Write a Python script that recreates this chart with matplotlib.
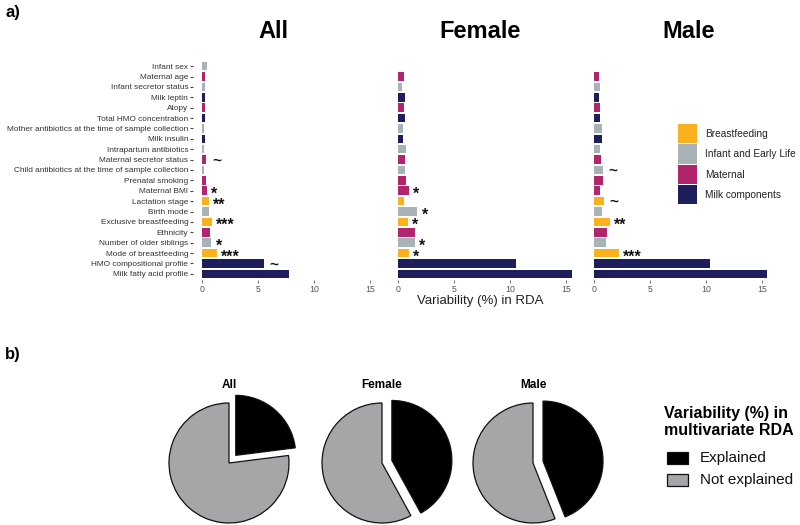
import matplotlib
matplotlib.use("Agg")
import matplotlib.pyplot as plt
from matplotlib.patches import Rectangle
import logging
logging.getLogger('matplotlib.font_manager').setLevel(logging.ERROR)

plt.rcParams['font.family'] = ['Liberation Sans', 'DejaVu Sans']
NARROW = ['Liberation Sans Narrow', 'Liberation Sans', 'DejaVu Sans']

# ---------------- data ----------------
variables = [
    "Infant sex", "Maternal age", "Infant secretor status", "Milk leptin", "Atopy",
    "Total HMO concentration", "Mother antibiotics at the time of sample collection",
    "Milk insulin", "Intrapartum antibiotics", "Maternal secretor status",
    "Child antibiotics at the time of sample collection", "Prenatal smoking",
    "Maternal BMI", "Lactation stage", "Birth mode", "Exclusive breastfeeding",
    "Ethnicity", "Number of older siblings", "Mode of breastfeeding",
    "HMO compositional profile", "Milk fatty acid profile",
]
groups = [
    "Infant and Early Life", "Maternal", "Infant and Early Life", "Milk components", "Maternal",
    "Milk components", "Infant and Early Life",
    "Milk components", "Infant and Early Life", "Maternal",
    "Infant and Early Life", "Maternal",
    "Maternal", "Breastfeeding", "Infant and Early Life", "Breastfeeding",
    "Maternal", "Infant and Early Life", "Breastfeeding",
    "Milk components", "Milk components",
]
values_all = [0.45, 0.3, 0.25, 0.3, 0.3, 0.3, 0.15, 0.3, 0.2, 0.4, 0.2, 0.4,
              0.45, 0.6, 0.6, 0.9, 0.75, 0.85, 1.35, 5.5, 7.8]
values_female = [0.0, 0.54, 0.36, 0.63, 0.57, 0.6, 0.48, 0.48, 0.72, 0.63, 0.63, 0.69,
                 1.0, 0.57, 1.73, 0.9, 1.55, 1.52, 0.98, 10.5, 15.5]
values_male = [0.0, 0.42, 0.56, 0.45, 0.5, 0.5, 0.71, 0.74, 0.53, 0.65, 0.83, 0.83,
               0.56, 0.89, 0.74, 1.4, 1.16, 1.1, 2.2, 10.35, 15.46]
sig_all = ["", "", "", "", "", "", "", "", "", "~", "", "", "*", "**", "", "***",
           "", "*", "***", "~", ""]
sig_female = ["", "", "", "", "", "", "", "", "", "", "", "", "*", "", "*", "*",
              "", "*", "*", "", ""]
sig_male = ["", "", "", "", "", "", "", "", "", "", "~", "", "", "~", "", "**",
            "", "", "***", "", ""]
panel_titles = ["All", "Female", "Male"]
x_ticks = [0, 5, 10, 15]
legend_groups = ["Breastfeeding", "Infant and Early Life", "Maternal", "Milk components"]
group_colors = ["#F9B11E", "#A8B2B7", "#B0256C", "#1F1E5C"]

pie_titles = ["All", "Female", "Male"]
explained = [23, 42, 44]
pie_labels = ["Explained", "Not explained"]
pie_colors = ["#000000", "#A6A6A8"]

# ---------------- figure ----------------
W, H = 800, 525
fig = plt.figure(figsize=(W / 100, H / 100), dpi=100)

def fx(px):
    return px / W

def fy(py):
    return 1 - py / H

cmap = dict(zip(legend_groups, group_colors))
lefts = [193, 389, 585]
ax_w = 191.5
ax_top, ax_bot = 60, 280
datasets = [(values_all, sig_all), (values_female, sig_female), (values_male, sig_male)]
title_x = [273, 480, 689]

n = len(variables)
ypos = list(range(n))
for i, (vals, sigs) in enumerate(datasets):
    ax = fig.add_axes([fx(lefts[i]), fy(ax_bot), ax_w / W, (ax_bot - ax_top) / H])
    ax.barh(ypos, vals, height=0.82, color=[cmap[g] for g in groups], linewidth=0)
    ax.set_xlim(-0.8, 16.3)
    ax.set_ylim(n - 0.4, -0.6)
    for s in ax.spines.values():
        s.set_visible(False)
    ax.set_xticks(x_ticks)
    ax.set_xticklabels([str(t) for t in x_ticks])
    ax.tick_params(axis='x', length=2, width=0.6, color='#555555', pad=1.5,
                   labelsize=6.3, labelcolor='#555555')
    if i == 0:
        ax.set_yticks(ypos)
        ax.set_yticklabels(variables)
        ax.tick_params(axis='y', length=2, width=0.8, color='#444444', pad=1.5,
                       labelsize=5.95, labelcolor='#333333')
    else:
        ax.set_yticks([])
    for y, v, s in zip(ypos, vals, sigs):
        if not s:
            continue
        if s == "~":
            ax.annotate(s, (v, y), xytext=(4, -3.5), textcoords='offset points',
                        ha='left', va='baseline', fontsize=11, fontweight='bold',
                        color='#111111')
        else:
            ax.annotate(s, (v, y), xytext=(3, -6.0), textcoords='offset points',
                        ha='left', va='baseline', fontsize=11.5, fontweight='bold',
                        color='#111111')
    fig.text(fx(title_x[i]), fy(32), panel_titles[i], ha='center', va='center',
             fontsize=17, fontweight='bold', family=NARROW)

fig.text(fx(480), fy(301), "Variability (%) in RDA", ha='center', va='center',
         fontsize=9.5, color='#222222')

# bar legend
for k, (g, c) in enumerate(zip(legend_groups, group_colors)):
    y0 = 124 + k * 20.3
    fig.patches.append(Rectangle((fx(678), fy(y0 + 19.3)), 19 / W, 19.3 / H,
                                 transform=fig.transFigure, facecolor=c,
                                 edgecolor='none'))
    fig.text(fx(705), fy(y0 + 10), g, ha='left', va='center', fontsize=7.3,
             color='#222222')

fig.text(fx(5), fy(12), "a)", ha='left', va='center', fontsize=12,
         fontweight='bold', family=NARROW)
fig.text(fx(5), fy(354), "b)", ha='left', va='center', fontsize=12,
         fontweight='bold', family=NARROW)

# pies
centers = [229, 382, 533]
cy = 463
R = 60
for i, e in enumerate(explained):
    size = 2.5 * R
    ax = fig.add_axes([fx(centers[i] - size / 2), fy(cy + size / 2), size / W, size / H])
    ax.pie([e, 100 - e], colors=pie_colors, startangle=90, counterclock=False,
           explode=[0.17, 0], wedgeprops=dict(edgecolor='#111111', linewidth=0.9))
    ax.set_xlim(-1.25, 1.25)
    ax.set_ylim(-1.25, 1.25)
    ax.set_aspect('equal')
    ax.axis('off')
    fig.text(fx(centers[i]), fy(385), pie_titles[i], ha='center', va='center',
             fontsize=8.5, fontweight='bold', family=NARROW)

# pie legend
fig.text(fx(664), fy(422), "Variability (%) in\nmultivariate RDA", ha='left',
         va='center', fontsize=11.5, fontweight='bold', linespacing=1.15,
         family=NARROW)
for k, (lab, c) in enumerate(zip(pie_labels, pie_colors)):
    yc = 458 + k * 22
    fig.patches.append(Rectangle((fx(667), fy(yc + 6)), 21 / W, 12 / H,
                                 transform=fig.transFigure, facecolor=c,
                                 edgecolor='#111111', linewidth=0.9))
    fig.text(fx(700), fy(yc), lab, ha='left', va='center', fontsize=11,
             family=NARROW, color='#111111')

fig.savefig("out.png", dpi=100)
